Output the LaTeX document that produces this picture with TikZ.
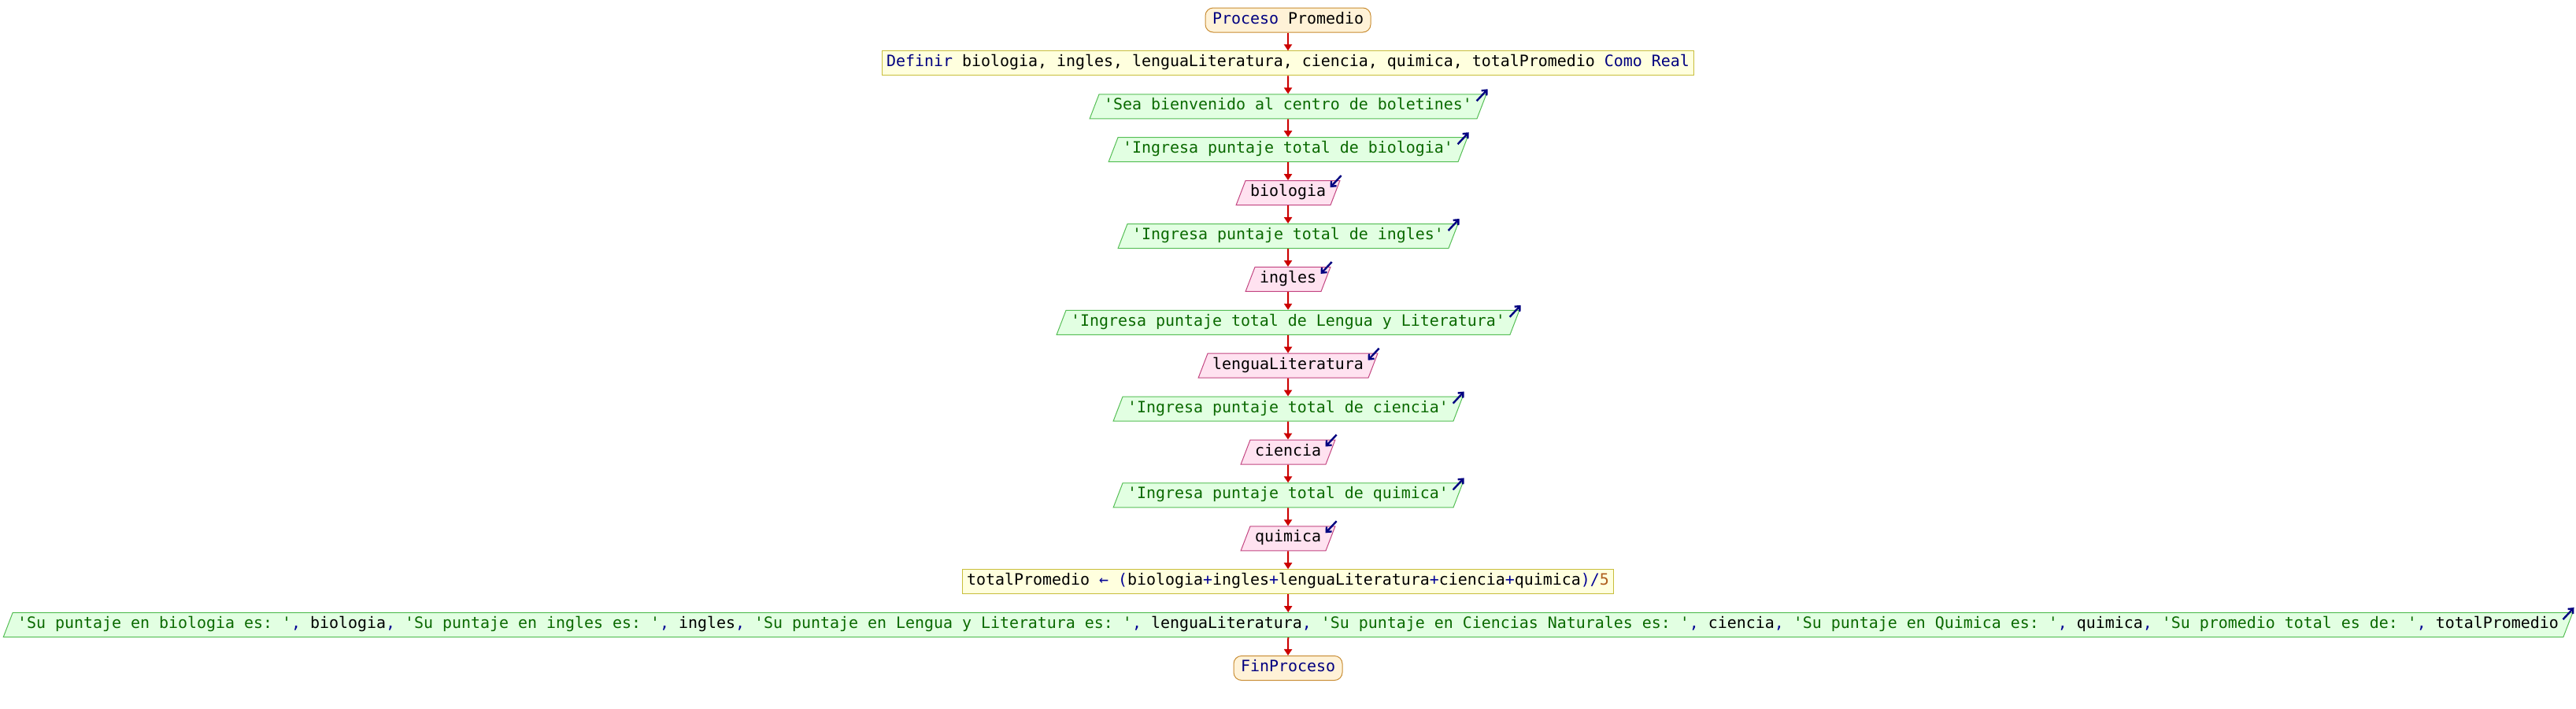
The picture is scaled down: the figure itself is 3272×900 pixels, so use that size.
\documentclass[tikz,border=0pt]{standalone}
\usepackage{fontspec}
\setmainfont{DejaVu Sans Mono}
\usetikzlibrary{shapes.geometric,arrows.meta,calc}
\definecolor{kwc}{RGB}{0,0,128}
\definecolor{strc}{RGB}{10,105,0}
\definecolor{opc}{RGB}{0,0,150}
\definecolor{numc}{RGB}{175,95,30}
\definecolor{startf}{RGB}{255,242,215}
\definecolor{startd}{RGB}{200,140,50}
\definecolor{procf}{RGB}{255,255,222}
\definecolor{procd}{RGB}{200,190,60}
\definecolor{outf}{RGB}{226,255,226}
\definecolor{outd}{RGB}{85,190,85}
\definecolor{inf}{RGB}{255,226,240}
\definecolor{ind}{RGB}{195,70,130}
\definecolor{flowc}{RGB}{204,0,0}
\newcommand{\pkw}[1]{\textcolor{kwc}{#1}}
\newcommand{\pst}[1]{\textcolor{strc}{#1}}
\newcommand{\pop}[1]{\textcolor{opc}{#1}}
\newcommand{\pnum}[1]{\textcolor{numc}{#1}}
\newcommand{\sq}{\textquotesingle}
\begin{document}
\begin{tikzpicture}[x=1pt,y=1pt,
  font=\fontsize{19.93}{24}\selectfont\frenchspacing,
  base/.style={text height=14pt, text depth=5pt, inner ysep=6pt, minimum height=31pt, line width=1pt},
  terminal/.style={base, rectangle, rounded corners=10pt, inner xsep=9pt, draw=startd, fill=startf},
  procbox/.style={base, rectangle, inner xsep=6pt, draw=procd, fill=procf},
  outbox/.style={base, trapezium, trapezium left angle=69, trapezium right angle=111, inner xsep=6pt, draw=outd, fill=outf},
  inbox/.style={base, trapezium, trapezium left angle=69, trapezium right angle=111, inner xsep=6pt, draw=ind, fill=inf},
  flow/.style={draw=flowc, line width=2pt, -{Triangle[length=8pt,width=10pt]}},
  ioarrow/.style={draw=kwc, line width=2.4pt, -{Straight Barb[length=5pt,width=9pt]}}
]
\useasboundingbox (0,0) rectangle (3272,-900);
\fill[white] (0,0) rectangle (3272,-900);

\node[terminal] (n0) at (1636,-25.5) {\pkw{Proceso} Promedio};
\node[procbox] (n1) at (1636,-80.4) {\pkw{Definir} biologia, ingles, lenguaLiteratura, ciencia, quimica, totalPromedio \pkw{Como Real}};
\node[outbox] (n2) at (1636,-135.3) {\pst{\sq Sea bienvenido al centro de boletines\sq}};
\node[outbox] (n3) at (1636,-190.2) {\pst{\sq Ingresa puntaje total de biologia\sq}};
\node[inbox] (n4) at (1636,-245.1) {biologia};
\node[outbox] (n5) at (1636,-300.0) {\pst{\sq Ingresa puntaje total de ingles\sq}};
\node[inbox] (n6) at (1636,-354.9) {ingles};
\node[outbox] (n7) at (1636,-409.8) {\pst{\sq Ingresa puntaje total de Lengua y Literatura\sq}};
\node[inbox] (n8) at (1636,-464.7) {lenguaLiteratura};
\node[outbox] (n9) at (1636,-519.6) {\pst{\sq Ingresa puntaje total de ciencia\sq}};
\node[inbox] (n10) at (1636,-574.5) {ciencia};
\node[outbox] (n11) at (1636,-629.4) {\pst{\sq Ingresa puntaje total de quimica\sq}};
\node[inbox] (n12) at (1636,-684.3) {quimica};
\node[procbox] (n13) at (1636,-739.2) {totalPromedio \pop{←} \pop{(}biologia\pop{+}ingles\pop{+}lenguaLiteratura\pop{+}ciencia\pop{+}quimica\pop{)/}\pnum{5}};
\node[outbox] (n14) at (1636,-794.1) {\pst{\sq Su puntaje en biologia es: \sq}\pop{,} biologia\pop{,} \pst{\sq Su puntaje en ingles es: \sq}\pop{,} ingles\pop{,} \pst{\sq Su puntaje en Lengua y Literatura es: \sq}\pop{,} lenguaLiteratura\pop{,} \pst{\sq Su puntaje en Ciencias Naturales es: \sq}\pop{,} ciencia\pop{,} \pst{\sq Su puntaje en Quimica es: \sq}\pop{,} quimica\pop{,} \pst{\sq Su promedio total es de: \sq}\pop{,} totalPromedio};
\node[terminal] (n15) at (1636,-849.0) {\pkw{FinProceso}};

\foreach \a/\b in {n0/n1,n1/n2,n2/n3,n3/n4,n4/n5,n5/n6,n6/n7,n7/n8,n8/n9,n9/n10,n10/n11,n11/n12,n12/n13,n13/n14,n14/n15}
  \draw[flow] (\a.south) -- (\b.north);

\foreach \n in {n2,n3,n5,n7,n9,n11,n14}
  \draw[ioarrow] ($(\n.top right corner)+(-13,-9)$) -- ($(\n.top right corner)+(1,6)$);
\foreach \n in {n4,n6,n8,n10,n12}
  \draw[ioarrow] ($(\n.top right corner)+(1,6)$) -- ($(\n.top right corner)+(-13,-9)$);
\end{tikzpicture}
\end{document}
